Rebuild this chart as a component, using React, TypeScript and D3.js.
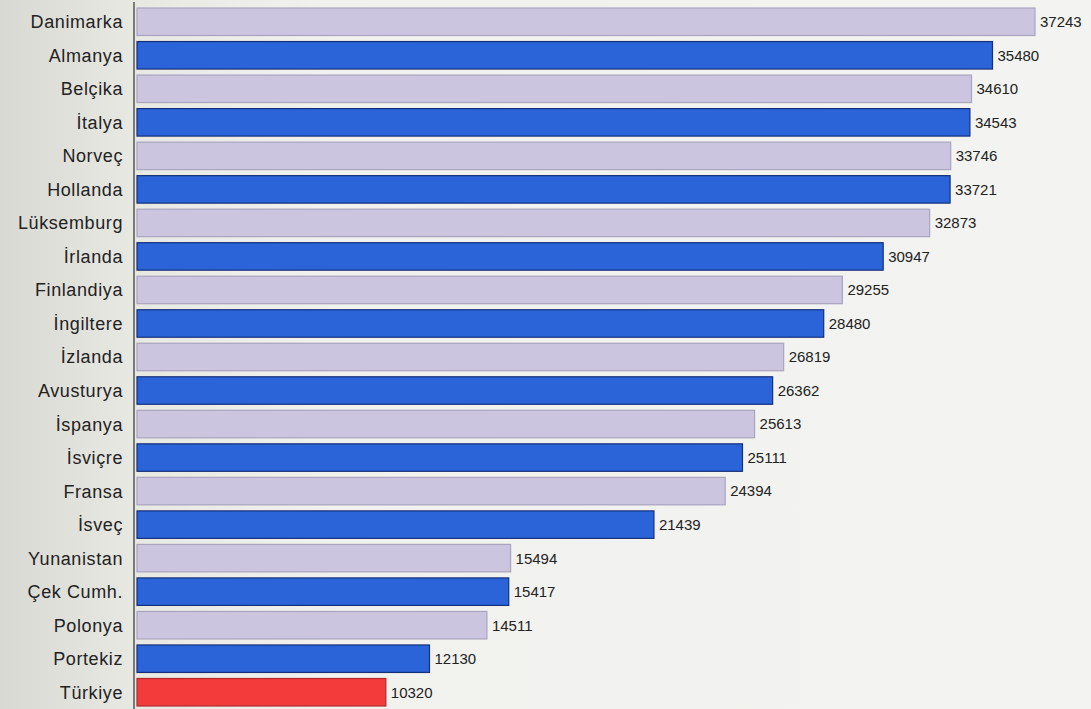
import React from "react";
import * as d3 from "d3";

const countries = ["Danimarka","Almanya","Belçika","İtalya","Norveç","Hollanda","Lüksemburg","İrlanda","Finlandiya","İngiltere","İzlanda","Avusturya","İspanya","İsviçre","Fransa","İsveç","Yunanistan","Çek Cumh.","Polonya","Portekiz","Türkiye"];
const values = [37243,35480,34610,34543,33746,33721,32873,30947,29255,28480,26819,26362,25613,25111,24394,21439,15494,15417,14511,12130,10320];

const W = 1091, H = 709;
const x0 = 137;

export default function App() {
  const x = d3.scaleLinear().domain([0, 37243]).range([x0, 1035]);
  const y = d3.scaleBand<string>().domain(countries).range([5, 709]).paddingInner(0.18).paddingOuter(0.09);
  const fillFor = (i: number, c: string) => c === "Türkiye" ? "#f43b3b" : (i % 2 === 0 ? "#cbc5e0" : "#2b64d8");
  const strokeFor = (i: number, c: string) => c === "Türkiye" ? "#b02a2a" : (i % 2 === 0 ? "#a9a4bf" : "#15307a");
  return (
    <svg width={W} height={H} style={{ position: "absolute", left: 0, top: 0, display: "block" }}>
      <defs>
        <linearGradient id="bg" x1="0" x2="1" y1="0" y2="0">
          <stop offset="0" stopColor="#d9d9d3" />
          <stop offset="0.12" stopColor="#e8e8e3" />
          <stop offset="0.3" stopColor="#f1f1ee" />
          <stop offset="1" stopColor="#f3f3f1" />
        </linearGradient>
      </defs>
      <rect x={0} y={0} width={W} height={H} fill="url(#bg)" />
      <line x1={x0 - 3} x2={x0 - 3} y1={2} y2={H} stroke="#333" strokeWidth={1.2} />
      {countries.map((c, i) => {
        const yy = y(c)!;
        const bw = y.bandwidth();
        return (
          <g key={c}>
            <rect x={x0} y={yy} width={x(values[i]) - x0} height={bw}
              fill={fillFor(i, c)} stroke={strokeFor(i, c)} strokeWidth={1.2} />
            <text x={123} y={yy + bw / 2} dy="0.36em" textAnchor="end" letterSpacing={0.6}
              fontFamily="Liberation Sans, Arial, sans-serif" fontSize={18} fill="#222">{c}</text>
            <text x={x(values[i]) + 5} y={yy + bw / 2} dy="0.36em" textAnchor="start"
              fontFamily="Liberation Sans, Arial, sans-serif" fontSize={15} fill="#222">{values[i]}</text>
          </g>
        );
      })}
    </svg>
  );
}
